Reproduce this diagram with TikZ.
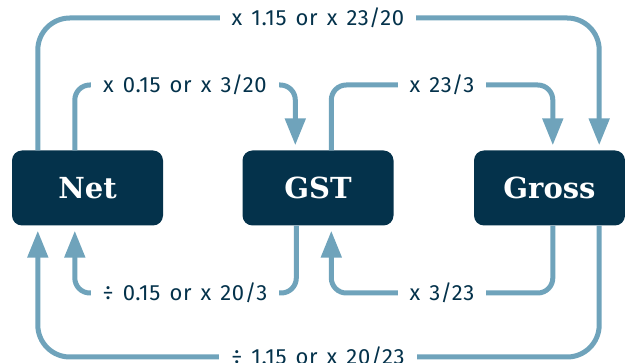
\documentclass[tikz,border=0pt]{standalone}
\usepackage{fontspec}
\setmainfont{Fira Sans}[LetterSpace=3,WordSpace=1.4]
\newfontfamily\boxfont{DejaVu Serif}
\usetikzlibrary{arrows.meta}
\definecolor{navy}{HTML}{04324B}
\definecolor{flow}{HTML}{6FA3BB}
\tikzset{
  stage/.style={rectangle, rounded corners=10pt, fill=navy, text=white,
    minimum width=151pt, minimum height=75pt, inner sep=0pt,
    font=\boxfont\bfseries\fontsize{29}{32}\selectfont},
  conn/.style={draw=flow, line width=5pt,
    -{Triangle[width=20pt,length=27pt]}, shorten >=5pt},
  outer/.style={conn, rounded corners=32pt},
  inner/.style={conn, rounded corners=15pt},
  lbl/.style={fill=white, text=navy, inner xsep=12pt, inner ysep=2pt,
    font=\fontsize{22}{24}\selectfont}
}
\begin{document}
\begin{tikzpicture}[x=1pt,y=-1pt]
\useasboundingbox (0,0) rectangle (625,363);

% the three amounts
\node[stage] (net)   at (87.5,188) {Net};
\node[stage] (gst)   at (318,188)  {GST};
\node[stage] (gross) at (549.5,188) {Gross};

% levels of the horizontal runs
\coordinate (ltop)  at (318,18);
\coordinate (lng)   at (185,85);
\coordinate (lgg)   at (442,85);
\coordinate (lgn)   at (185,293);
\coordinate (lgrg)  at (442,293);
\coordinate (lbot)  at (318,357);

% net -> gross and back
\draw[outer] ([xshift=26pt]net.north west) |- (ltop) -| ([xshift=-26pt]gross.north east);
\draw[outer] ([xshift=-26pt]gross.south east) |- (lbot) -| ([xshift=26pt]net.south west);

% net <-> gst
\draw[inner] ([xshift=63pt]net.north west) |- (lng) -| ([xshift=53pt]gst.north west);
\draw[inner] ([xshift=54pt]gst.south west) |- (lgn) -| ([xshift=63pt]net.south west);

% gst <-> gross
\draw[inner] ([xshift=89pt]gst.north west) |- (lgg) -| ([xshift=79pt]gross.north west);
\draw[inner] ([xshift=79pt]gross.south west) |- (lgrg) -| ([xshift=89pt]gst.south west);

% conversion factors
\node[lbl] at (ltop) {x 1.15 or x 23/20};
\node[lbl] at (lng)  {x 0.15 or x 3/20};
\node[lbl] at (lgg)  {x 23/3};
\node[lbl] at (lgn)  {÷ 0.15 or x 20/3};
\node[lbl] at (lgrg) {x 3/23};
\node[lbl] at (lbot) {÷ 1.15 or x 20/23};
\end{tikzpicture}
\end{document}
